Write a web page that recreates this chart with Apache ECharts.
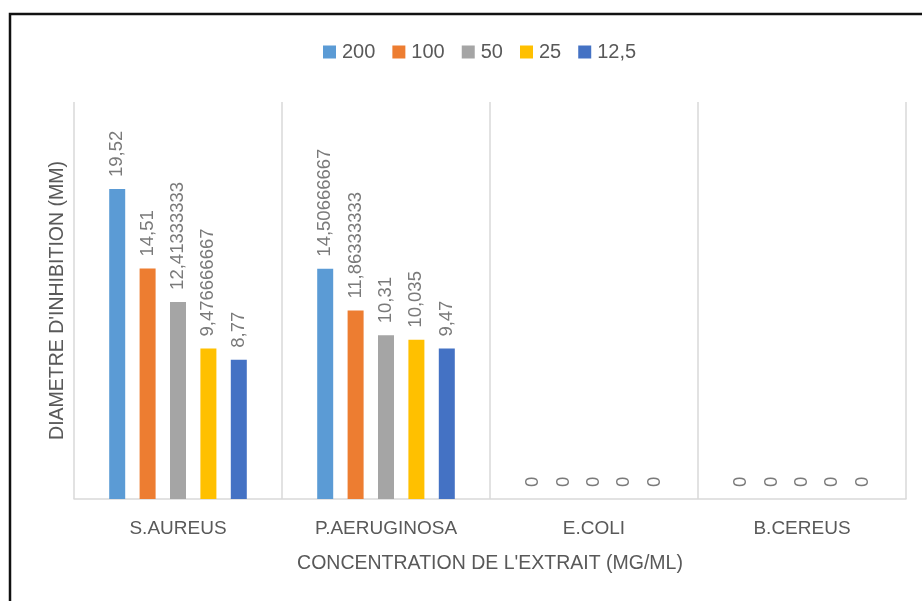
<!DOCTYPE html>
<html>
<head>
<meta charset="utf-8">
<script src="https://cdn.jsdelivr.net/npm/echarts@6/dist/echarts.min.js"></script>
<style>
  html, body { margin: 0; padding: 0; background: #fff; }
  #chart { width: 922px; height: 601px; }
</style>
</head>
<body>
<div id="chart"></div>
<script>
// Bacterial strains on the category axis
const strains = ['S.AUREUS', 'P.AERUGINOSA', 'E.COLI', 'B.CEREUS'];

// Extract concentrations (mg/ml), one series each
const concentrations = ['200', '100', '50', '25', '12,5'];

// Inhibition diameters (mm) per concentration, in strain order
const conc200 = [19.52, 14.50666667, 0, 0];
const conc100 = [14.51, 11.86333333, 0, 0];
const conc50 = [12.41333333, 10.31, 0, 0];
const conc25 = [9.476666667, 10.035, 0, 0];
const conc12_5 = [8.77, 9.47, 0, 0];

const seriesValues = [conc200, conc100, conc50, conc25, conc12_5];
const colors = ['#5b9bd5', '#ed7d31', '#a5a5a5', '#ffc000', '#4472c4'];

const FONT = 'Liberation Sans';
const TEXT = '#595959';

const chart = echarts.init(document.getElementById('chart'), null, { renderer: 'canvas' });

chart.setOption({
  animation: false,
  color: colors,
  legend: {
    top: 37,
    left: 318,
    itemWidth: 13,
    itemHeight: 13,
    itemGap: 17,
    icon: 'rect',
    textStyle: { fontFamily: FONT, fontSize: 20, color: TEXT, padding: [0, 0, 0, 1] },
    data: concentrations
  },
  grid: { left: 74, right: 16, top: 102, bottom: 102, containLabel: false },
  xAxis: {
    type: 'category',
    data: strains,
    boundaryGap: true,
    axisLine: { show: true, lineStyle: { color: '#d9d9d9', width: 1.5 } },
    axisTick: { show: false },
    splitLine: { show: true, lineStyle: { color: '#d9d9d9', width: 1.5 } },
    axisLabel: { fontFamily: FONT, fontSize: 19, color: TEXT, margin: 20 },
    name: "CONCENTRATION DE L'EXTRAIT (MG/ML)",
    nameLocation: 'middle',
    nameGap: 55,
    nameTextStyle: { fontFamily: FONT, fontSize: 19.5, color: TEXT }
  },
  yAxis: {
    type: 'value',
    min: 0,
    max: 25,
    interval: 5,
    axisLine: { show: false },
    axisTick: { show: false },
    axisLabel: { show: false },
    splitLine: { show: false },
    name: "DIAMETRE D'INHIBITION (MM)",
    nameLocation: 'middle',
    nameGap: 6,
    nameTextStyle: { fontFamily: FONT, fontSize: 19.5, color: TEXT }
  },
  series: concentrations.map((name, i) => ({
    name: name,
    type: 'bar',
    data: seriesValues[i],
    barWidth: 16,
    barGap: '90%',
    itemStyle: { color: colors[i] },
    label: {
      show: true,
      position: 'top',
      rotate: 90,
      align: 'left',
      verticalAlign: 'middle',
      distance: 12,
      fontFamily: FONT,
      fontSize: 18.5,
      color: '#7a7a7a',
      formatter: p => String(p.value).replace('.', ',')
    }
  })),
  graphic: [{
    type: 'polyline',
    shape: { points: [[10, 601], [10, 14], [922, 14]] },
    style: { stroke: '#111', lineWidth: 2.5, fill: null },
    silent: true
  }]
});
</script>
</body>
</html>
